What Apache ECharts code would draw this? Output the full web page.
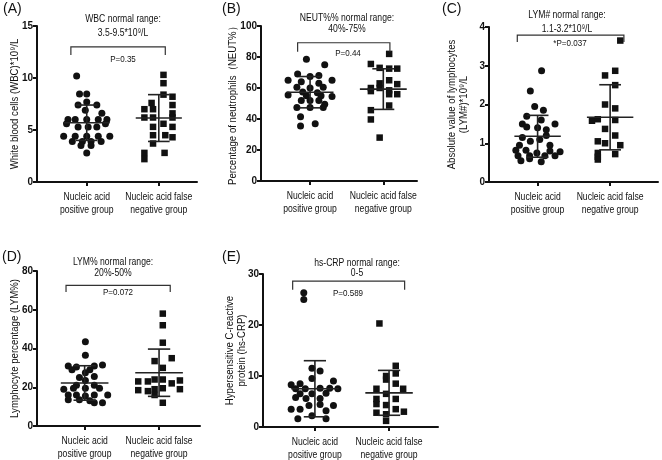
<!DOCTYPE html>
<html><head><meta charset="utf-8">
<script src="https://cdn.jsdelivr.net/npm/echarts@6/dist/echarts.min.js"></script>
<style>html,body{margin:0;padding:0;background:#fff}#c{width:662px;height:460px}</style>
</head><body><div id="c"></div>
<script>
// ---- data ----
const categories = ['Nucleic acid\npositive group', 'Nucleic acid false\nnegative group'];

// (A) WBC
const wbcPos = [[0.86,10.2],[0.9,8.45],[1.0,8.45],[1.0,7.7],[0.88,7.4],[1.14,7.4],[0.98,6.9],[1.21,6.6],[0.74,6.0],[0.84,6.0],[1.0,6.0],[1.16,6.0],[1.28,6.0],[0.72,5.6],[1.26,5.6],[0.88,5.3],[1.02,5.3],[1.14,5.3],[0.68,4.4],[0.84,4.4],[1.0,4.4],[1.16,4.4],[1.32,4.4],[0.8,3.9],[0.94,3.9],[1.06,3.9],[1.2,3.9],[0.92,3.5],[1.06,3.5],[1.0,2.8]];
const wbcNeg = [[2.065,10.3],[2.065,9.5],[2.065,8.4],[2.19,8.2],[1.9,7.6],[2.19,7.4],[1.8,7.0],[1.92,7.0],[2.19,6.6],[1.8,6.2],[1.92,6.2],[2.19,6.2],[2.065,5.6],[1.92,5.3],[2.19,5.3],[1.92,4.5],[2.09,4.5],[2.19,4.3],[1.92,3.7],[1.8,2.8],[2.08,2.8],[1.8,2.2]];
const wbcStats = [[1,5.7,1.7],[2,6.15,2.25]];
const wbcBracket = [0.78,2.09,13.0,12.2];

// (B) NEUT%
const neutPos = [[0.95,78.5],[1.2,75],[0.83,69],[1.0,67.5],[1.12,68],[0.7,65],[1.3,65],[0.88,64],[1.12,63],[0.82,60.5],[1.0,60],[1.18,60.5],[0.9,57.5],[1.1,57],[0.7,55.5],[0.95,55],[1.15,55],[1.3,54.5],[0.88,52],[1.0,52],[1.12,52],[1.2,49.5],[0.82,47.5],[1.0,47.5],[1.18,47.5],[0.87,41.5],[1.07,37],[0.87,35.5]];
const neutNeg = [[2.08,82],[1.83,75.5],[1.95,73],[2.08,72.5],[2.19,72.5],[2.08,65],[1.95,63],[2.19,62.5],[1.83,60],[1.95,60],[1.83,58],[2.08,58.5],[2.19,56],[2.08,56],[2.08,48.7],[1.83,45.7],[1.83,39.7],[1.95,28]];
const neutStats = [[1,57.3,10.1],[2,59.3,13.1]];
const neutBracket = [0.83,2.09,89.2,83.4];

// (C) LYM#
const lymPos = [[1.055,2.87],[0.9,2.35],[0.96,1.95],[1.08,1.85],[0.85,1.7],[1.05,1.6],[0.79,1.5],[1.24,1.5],[0.85,1.42],[1.0,1.4],[1.12,1.35],[0.79,1.15],[1.12,1.2],[0.9,1.05],[1.03,1.1],[0.75,0.95],[1.17,0.95],[0.7,0.82],[0.84,0.82],[1.17,0.8],[1.31,0.78],[0.99,0.75],[0.73,0.68],[0.89,0.68],[1.1,0.68],[1.24,0.68],[0.77,0.55],[1.05,0.52],[0.89,0.6]];
const lymNeg = [[2.14,3.65],[2.07,2.87],[1.93,2.75],[2.07,2.5],[1.93,2.0],[2.07,1.9],[2.07,1.6],[1.75,1.58],[1.83,1.62],[1.93,1.37],[2.07,1.2],[1.83,1.05],[1.93,1.0],[2.14,0.95],[1.83,0.75],[2.07,0.72],[1.83,0.65],[1.83,0.58]];
const lymStats = [[1,1.18,0.54],[2,1.67,0.84]];
const lymBracket = [0.72,2.19,3.79,3.61];

// (D) LYM%
const lympctPos = [[1.01,43.5],[1.01,36.5],[0.78,31],[0.89,30.5],[1.13,31],[1.24,31.5],[0.83,29],[1.07,29],[1.01,27.5],[0.93,25],[1.13,25.5],[1.01,23.5],[0.89,21],[1.13,21],[0.72,19],[0.85,19.5],[1.01,19.5],[1.2,19.5],[0.78,16],[0.89,16],[1.13,16],[1.31,16],[1.01,15.5],[0.78,13.5],[0.93,13.5],[1.07,13],[1.13,12],[1.24,12]];
const lympctNeg = [[2.05,58],[2.05,52],[2.05,43],[2.17,35],[1.94,33.5],[2.05,30],[1.94,24],[2.05,24],[2.28,23.5],[1.85,23],[1.72,23],[2.17,22],[2.28,19],[1.72,18.5],[1.85,18],[1.94,19],[2.05,19.5],[1.94,16],[2.05,12]];
const lympctStats = [[1,22.2,8.9],[2,27.5,12.2]];
const lympctBracket = [0.75,2.15,72.6,69.2];

// (E) hs-CRP
const crpPos = [[0.85,26.3],[0.85,25],[0.96,11.5],[1.07,11],[0.96,9.5],[0.8,8.5],[1.25,9],[0.68,8.3],[0.74,7.5],[0.87,7.5],[1.07,7.6],[1.2,7.6],[1.31,7.5],[0.8,6.5],[0.96,6.5],[1.15,6.6],[0.88,5.6],[1.07,5.6],[0.74,5.8],[0.92,4.2],[1.25,4.2],[0.68,3.5],[0.8,3.5],[1.15,3.2],[0.96,2.2],[0.77,1.6],[1.15,1.6],[1.07,4.4]];
const crpNeg = [[1.87,20.3],[2.09,12],[2.09,10.5],[1.96,9.3],[2.09,8.5],[1.83,7.5],[2.19,7.5],[1.96,6.5],[2.09,5.5],[1.83,4.5],[1.96,4.3],[2.09,3.5],[2.2,3],[1.83,2.8],[1.96,2.5],[1.96,1.2],[1.83,5.5],[1.96,10]];
const crpStats = [[1,7.5,5.5],[2,6.7,4.4]];
const crpBracket = [0.70,2.21,28.6,26.9];

const yTicksA = [0,15,5], yTicksB = [0,100,20], yTicksC = [0,4,1], yTicksD = [0,80,20], yTicksE = [0,30,10];

// ---- layout / styling ----
const FONT = "'Liberation Sans',Arial,sans-serif";
const NARROW = 0.82; // reference uses a condensed face
const INK = '#111';
const panels = [
  {pos:wbcPos, neg:wbcNeg, stats:wbcStats, br:wbcBracket, ticks:yTicksA, grid:{left:37,top:26,width:160,height:156}, xr:[0.31,2.53], yName:'White blood cells (WBC)*10⁹/L', nameX:15},
  {pos:neutPos, neg:neutNeg, stats:neutStats, br:neutBracket, ticks:yTicksB, grid:{left:261,top:26,width:156,height:155}, xr:[0.33,2.46], yName:'Percentage of neutrophils（NEUT%）', nameX:233},
  {pos:lymPos, neg:lymNeg, stats:lymStats, br:lymBracket, ticks:yTicksC, grid:{left:489,top:27,width:169,height:155}, xr:[0.33,2.66], yName:'Absolute value of lymphocytes\n(LYM#)*10⁹/L', nameX:457.5},
  {pos:lympctPos, neg:lympctNeg, stats:lympctStats, br:lympctBracket, ticks:yTicksD, grid:{left:37,top:271,width:163,height:155}, xr:[0.36,2.55], yName:'Lymphocyte percentage (LYM%)', nameX:15},
  {pos:crpPos, neg:crpNeg, stats:crpStats, br:crpBracket, ticks:yTicksE, grid:{left:263,top:274,width:175,height:153}, xr:[0.30,2.66], yName:'Hypersensitive C-reactive\nprotein (hs-CRP)', nameX:236}
];

const texts = [
  ['(A)',3,9,14,'left',1],['WBC normal range:',123,19,10.5],['3.5-9.5*10⁹/L',123,33,10.5],['P=0.35',123,59,9.8],
  ['(B)',222,9,14,'left',1],['NEUT%% normal range:',347,18,10.5],['40%-75%',347,29,10.5],['P=0.44',348,53,9.8],
  ['(C)',442,9,14,'left',1],['LYM# normal range:',567,15,10.5],['1.1-3.2*10⁹/L',567,29,10.5],['*P=0.037',570,43,9.8],
  ['(D)',2,257,14,'left',1],['LYM% normal range:',113,262,10.5],['20%-50%',113,273,10.5],['P=0.072',118,292,9.8],
  ['(E)',222,257,14,'left',1],['hs-CRP normal range:',357,263,10.5],['0-5',357,273,10.5],['P=0.589',348,293,9.8]
];

const grids=[], xAxes=[], yAxes=[], series=[];
panels.forEach((p,i)=>{
  grids.push(Object.assign({containLabel:false}, p.grid));
  xAxes.push({type:'value', gridIndex:i, min:p.xr[0], max:p.xr[1],
    axisLine:{show:true, lineStyle:{color:INK,width:2}},
    axisTick:{show:true, customValues:[1,2], length:4, lineStyle:{color:INK,width:2}},
    axisLabel:{show:false},
    splitLine:{show:false}});
  yAxes.push({type:'value', gridIndex:i, min:p.ticks[0], max:p.ticks[1], interval:p.ticks[2],
    axisLine:{show:true, lineStyle:{color:INK,width:2}},
    axisTick:{show:true, length:4, lineStyle:{color:INK,width:2}},
    axisLabel:{color:INK, fontFamily:FONT, fontSize:10, fontWeight:'bold', margin:4},
    splitLine:{show:false}});
  series.push({type:'scatter', xAxisIndex:i, yAxisIndex:i, data:p.pos, symbol:'circle', symbolSize:7, itemStyle:{color:INK, opacity:1}, silent:true, z:2});
  series.push({type:'scatter', xAxisIndex:i, yAxisIndex:i, data:p.neg, symbol:'rect', symbolSize:6.5, itemStyle:{color:INK, opacity:1}, silent:true, z:2});
  series.push({type:'custom', xAxisIndex:i, yAxisIndex:i, data:p.stats, z:3, silent:true,
    renderItem:(params,api)=>{
      const x=api.value(0), m=api.value(1), s=api.value(2);
      const st={stroke:'#222', lineWidth:1.6};
      const L=(a,b)=>({type:'line', shape:{x1:a[0],y1:a[1],x2:b[0],y2:b[1]}, style:st});
      return {type:'group', children:[
        L(api.coord([x-0.32,m]), api.coord([x+0.32,m])),
        L(api.coord([x,m-s]), api.coord([x,m+s])),
        L(api.coord([x-0.15,m+s]), api.coord([x+0.15,m+s])),
        L(api.coord([x-0.15,m-s]), api.coord([x+0.15,m-s]))
      ]};
    }});
  series.push({type:'custom', xAxisIndex:i, yAxisIndex:i, data:[p.br], z:3, silent:true,
    renderItem:(params,api)=>{
      const x1=api.value(0), x2=api.value(1), yt=api.value(2), yd=api.value(3);
      return {type:'polyline', shape:{points:[api.coord([x1,yd]),api.coord([x1,yt]),api.coord([x2,yt]),api.coord([x2,yd])]}, style:{stroke:'#333', lineWidth:1.2, fill:null}};
    }});
});

const chart = echarts.init(document.getElementById('c'), null, {renderer:'canvas'});
chart.setOption({backgroundColor:'#fff', animation:false, grid:grids, xAxis:xAxes, yAxis:yAxes, series:series});

const graphic = texts.map(t=>({type:'text', x:t[1], y:t[2], silent:true, scaleX:t[5]||NARROW,
  style:{text:t[0], fill:INK, fontFamily:FONT, fontSize:t[3], align:t[4]||'center', verticalAlign:'middle'}}));

// category labels placed through the axes' own scale
panels.forEach((p,i)=>{
  [1,2].forEach(v=>{
    const pt = chart.convertToPixel({xAxisIndex:i, yAxisIndex:i}, [v, p.ticks[0]]);
    graphic.push({type:'text', x:pt[0], y:pt[1]+9, scaleX:NARROW, silent:true,
      style:{text:categories[v-1], fill:INK, fontFamily:FONT, fontSize:10.5, lineHeight:13, align:'center', verticalAlign:'top'}});
  });
  const g = p.grid;
  graphic.push({type:'text', x:p.nameX, y:g.top+g.height/2, rotation:Math.PI/2, scaleX:0.85, silent:true,
    style:{text:p.yName, fill:INK, fontFamily:FONT, fontSize:11.3, lineHeight:12, align:'center', verticalAlign:'middle'}});
});

chart.setOption({graphic:graphic});
</script></body></html>
